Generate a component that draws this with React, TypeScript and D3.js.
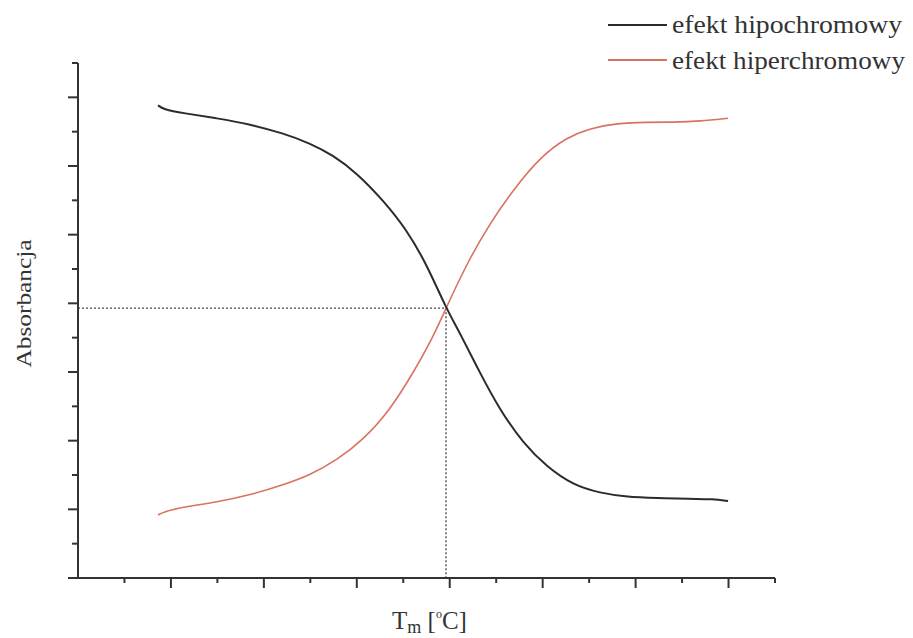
import React from "react";
import * as d3 from "d3";

// x and y in axis-tick units (no numeric labels on the original)
const hipoX = [0.861, 0.915, 1.13, 1.496, 1.851, 2.206, 2.497, 2.744, 3.002, 3.282, 3.54, 3.756, 3.96, 4.111, 4.326, 4.541, 4.789, 5.047, 5.327, 5.617, 5.908, 6.231, 6.586, 6.833, 6.995];
const hipoY = [6.885, 6.827, 6.769, 6.696, 6.608, 6.477, 6.332, 6.157, 5.895, 5.502, 5.066, 4.556, 3.93, 3.566, 2.984, 2.445, 1.965, 1.616, 1.354, 1.237, 1.179, 1.164, 1.15, 1.15, 1.121];
const hiperX = [0.861, 0.915, 1.13, 1.496, 1.851, 2.206, 2.497, 2.787, 3.067, 3.357, 3.605, 3.82, 3.96, 4.186, 4.433, 4.681, 4.971, 5.262, 5.51, 5.8, 6.123, 6.403, 6.693, 6.995];
const hiperY = [0.917, 0.961, 1.033, 1.106, 1.208, 1.354, 1.499, 1.718, 2.009, 2.445, 2.984, 3.508, 3.93, 4.585, 5.167, 5.648, 6.128, 6.419, 6.55, 6.623, 6.637, 6.637, 6.652, 6.696];
const tmX = 3.96;
const tmY = 3.93;
const seriesNames = ["efekt hipochromowy", "efekt hiperchromowy"];
const seriesColors = ["#2a2a33", "#d9735f"];
const xMajor = [1, 2, 3, 4, 5, 6, 7];
const xMinor = [0.5, 1.5, 2.5, 3.5, 4.5, 5.5, 6.5, 7.5];
const yMajor = [0, 1, 2, 3, 4, 5, 6, 7];
const yMinor = [0.5, 1.5, 2.5, 3.5, 4.5, 5.5, 6.5, 7.5];

export default function App() {
  const W = 913, H = 638;
  const x = d3.scaleLinear().domain([0, 7.5]).range([78, 775]);
  const y = d3.scaleLinear().domain([0, 7.5]).range([578, 63]);
  const line = d3
    .line<[number, number]>()
    .x((d) => x(d[0]))
    .y((d) => y(d[1]))
    .curve(d3.curveBasis);
  const hipo = hipoX.map((v, i) => [v, hipoY[i]] as [number, number]);
  const hiper = hiperX.map((v, i) => [v, hiperY[i]] as [number, number]);
  const axisColor = "#333";
  const font = "'Liberation Serif', 'Times New Roman', serif";
  return (
    <svg
      width={W}
      height={H}
      style={{ position: "absolute", left: 0, top: 0, background: "#fff" }}
    >
      {/* dotted guide lines */}
      <line x1={x(0)} x2={x(tmX)} y1={y(tmY)} y2={y(tmY)} stroke="#444" strokeWidth={1.3} strokeDasharray="2,2" />
      <line x1={x(tmX)} x2={x(tmX)} y1={y(tmY)} y2={y(0)} stroke="#444" strokeWidth={1.3} strokeDasharray="2,2" />
      {/* curves */}
      <path d={line(hiper) || ""} fill="none" stroke={seriesColors[1]} strokeWidth={1.6} />
      <path d={line(hipo) || ""} fill="none" stroke={seriesColors[0]} strokeWidth={2} />
      {/* axes */}
      <line x1={x(0)} x2={x(7.5)} y1={y(0)} y2={y(0)} stroke={axisColor} strokeWidth={2} />
      <line x1={x(0)} x2={x(0)} y1={y(0)} y2={y(7.5)} stroke={axisColor} strokeWidth={2} />
      {xMajor.map((t) => (
        <line key={"xM" + t} x1={x(t)} x2={x(t)} y1={y(0)} y2={y(0) + 10} stroke={axisColor} strokeWidth={2} />
      ))}
      {xMinor.map((t) => (
        <line key={"xm" + t} x1={x(t)} x2={x(t)} y1={y(0)} y2={y(0) + 5} stroke={axisColor} strokeWidth={2} />
      ))}
      {yMajor.map((t) => (
        <line key={"yM" + t} x1={x(0) - 10} x2={x(0)} y1={y(t)} y2={y(t)} stroke={axisColor} strokeWidth={2} />
      ))}
      {yMinor.map((t) => (
        <line key={"ym" + t} x1={x(0) - 6} x2={x(0)} y1={y(t)} y2={y(t)} stroke={axisColor} strokeWidth={2} />
      ))}
      {/* axis titles */}
      <text
        transform={`translate(31,${(y(0) + y(7.5)) / 2 - 17}) rotate(-90)`}
        textAnchor="middle"
        fontFamily={font}
        fontSize={22}
        fill="#333"
        textLength={128}
        lengthAdjust="spacingAndGlyphs"
      >
        Absorbancja
      </text>
      <text x={392} y={629} fontFamily={font} fontSize={25} fill="#333">
        T<tspan fontSize={18} dy={4}>m</tspan>
        <tspan dy={-4}> [</tspan>
        <tspan fontSize={12} dy={-11}>o</tspan>
        <tspan dy={11}>C]</tspan>
      </text>
      {/* legend */}
      {seriesNames.map((n, i) => (
        <g key={n}>
          <line x1={608} x2={667} y1={25 + i * 35} y2={25 + i * 35} stroke={seriesColors[i]} strokeWidth={i === 0 ? 2.2 : 1.8} />
          <text
            x={672}
            y={33 + i * 36}
            fontFamily={font}
            fontSize={25}
            fill="#333"
            textLength={i === 0 ? 230 : 233}
            lengthAdjust="spacingAndGlyphs"
          >
            {n}
          </text>
        </g>
      ))}
    </svg>
  );
}
